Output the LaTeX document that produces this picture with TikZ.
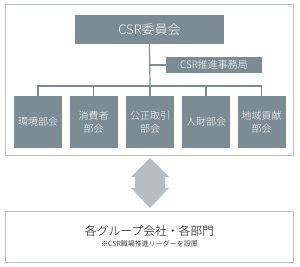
\documentclass[tikz,border=0pt]{standalone}
\usepackage{fontspec}
\setmainfont{Noto Sans CJK JP}[UprightFont={* Light}]
\definecolor{boxgray}{HTML}{7B8C94}
\definecolor{framegray}{HTML}{BAC1C6}
\definecolor{arrowgray}{HTML}{B6BEC3}
\definecolor{linegray}{HTML}{7B8C94}
\tikzset{
  dept/.style={fill=boxgray, draw=none, text=white, minimum width=48pt, minimum height=52pt, inner sep=0pt, font=\fontsize{10}{13}\selectfont, align=center},
  conn/.style={draw=linegray, line width=1.2pt},
}
\begin{document}
\begin{tikzpicture}[x=1pt,y=-1pt]
\useasboundingbox (0,0) rectangle (300,267);
\fill[white] (0,0) rectangle (300,267);
% outer frames
\node[draw=framegray, line width=0.8pt, minimum width=288pt, minimum height=151pt, inner sep=0pt] (frame) at (149.5,79.5) {};
\node[draw=framegray, line width=0.8pt, minimum width=288pt, minimum height=51pt, inner sep=0pt, align=center] (group) at (149.5,236.5)
  {\fontsize{11.8}{14}\selectfont 各グループ会社・各部門\\[-1pt]\fontsize{7}{9}\selectfont ※CSR職場推進リーダーを設置};
% committee
\node[fill=boxgray, text=white, minimum width=149pt, minimum height=29pt, inner sep=0pt, font=\fontsize{13}{15}\selectfont] (csr) at (149.5,29.5) {CSR委員会};
\node[fill=boxgray, text=white, minimum width=96pt, minimum height=16pt, inner sep=0pt, font=\fontsize{10}{12}\selectfont] (office) at (214,65) {CSR推進事務局};
% departments
\node[dept] (d1) at (38,122) {環境部会};
\node[dept] (d2) at (93.5,122) {消費者\\部会};
\node[dept] (d3) at (150,122) {公正取引\\部会};
\node[dept] (d4) at (206,122) {人財部会};
\node[dept] (d5) at (261.5,122) {地域貢献\\部会};
% connectors
\coordinate (bus) at (150,86);
\draw[conn] (csr.south) -- (bus);
\draw[conn] (150,65) -- (office.west);
\draw[conn] (d1.north) |- (bus) -| (d5.north);
\draw[conn] (d2.north) -- (d2.north |- bus);
\draw[conn] (d3.north) -- (d3.north |- bus);
\draw[conn] (d4.north) -- (d4.north |- bus);
% double arrow
\fill[arrowgray] (150,158) -- (169,177) -- (165,177) -- (165,188) -- (169,188) -- (150,208) -- (131,188) -- (135,188) -- (135,177) -- (131,177) -- cycle;
\end{tikzpicture}
\end{document}
